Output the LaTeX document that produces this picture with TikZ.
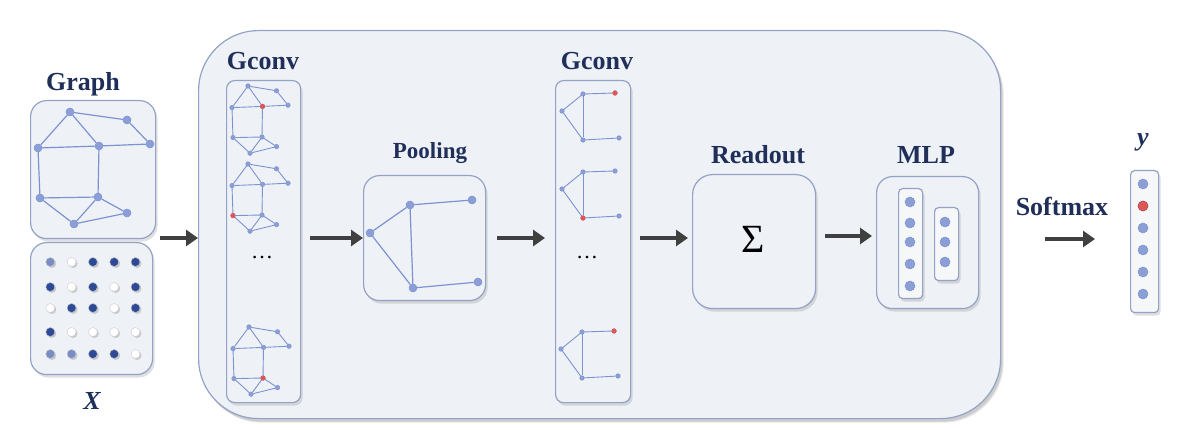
\documentclass[tikz,border=0pt]{standalone}
\usepackage{fontspec}
\setmainfont{Liberation Serif}
\usetikzlibrary{arrows.meta,shadows,positioning}
\definecolor{boxfill}{HTML}{EEF1F5}
\definecolor{boxline}{HTML}{93A2C6}
\definecolor{nodeblue}{HTML}{8C9ED6}
\definecolor{edgeblue}{HTML}{7C93D2}
\definecolor{dark}{HTML}{2E4A96}
\definecolor{mid}{HTML}{7A8CC4}
\definecolor{redn}{HTML}{E05555}
\definecolor{title}{HTML}{1F2F5A}
\tikzset{
  box/.style={draw=boxline,line width=1.2pt,fill=boxfill,rounded corners=#1,
     drop shadow={shadow xshift=2pt,shadow yshift=-3pt,opacity=0.25}},
  box/.default=16pt,
  lbl/.style={font=\fontsize{26}{28}\selectfont\bfseries,text=title},
  gn/.style={circle,fill=nodeblue,draw=edgeblue,line width=0.5pt,inner sep=0pt,minimum size=#1},
  gn/.default=8pt,
  ge/.style={draw=edgeblue,line width=1.2pt},
  se/.style={draw=edgeblue,line width=0.9pt},
  arr/.style={draw=black!75,line width=3.5pt,-{Triangle[length=12pt,width=16pt]}},
  md/.style={circle,inner sep=0pt,minimum size=9pt,draw=white!80!black,line width=0.4pt,
     drop shadow={shadow xshift=1.5pt,shadow yshift=-1.5pt,opacity=0.35}},
}
\newcommand\smallG[4]{%
 \begin{scope}[shift={(#2,#3)},xscale=0.5,yscale=0.6]
  \foreach \n/\x/\y in {a/70/112,b/127/120,c/150/144,d/38/148,e/99/146,f/40/198,g/98/197,h/127/213,i/74/224}{
   \node[gn=4.5pt] (#1\n) at (\x-38,\y-112) {};}
  \node[gn=4.5pt,fill=redn,draw=redn] at (#1#4) {};
  \foreach \u/\v in {a/b,b/c,a/d,d/e,e/c,a/e,e/g,d/f,f/g,g/h,h/i,f/i,g/i}{\path[se] (#1\u)--(#1\v);}
 \end{scope}}
\newcommand\smallP[4]{%
 \begin{scope}[shift={(#2,#3)}]
  \foreach \n/\x/\y in {a/21/1,b/53/0,c/0/18,d/21/47,e/57/45}{\node[gn=4.5pt] (#1\n) at (\x,\y) {};}
  \node[gn=4.5pt,fill=redn,draw=redn] at (#1#4) {};
  \foreach \u/\v in {a/b,a/c,c/d,a/d,d/e}{\path[se] (#1\u)--(#1\v);}
 \end{scope}}
\begin{document}
\begin{tikzpicture}[x=1pt,y=-1pt]
\useasboundingbox (0,0) rectangle (1192,430);
\node[box=60pt,minimum width=802pt,minimum height=388pt,anchor=north west,
   drop shadow={shadow xshift=3pt,shadow yshift=-4pt,opacity=0.2}] (outer) at (198,30) {};
% Graph
\node[lbl] (tg) at (83,84) {Graph};
\node[box,minimum width=125pt,minimum height=138pt,anchor=north west] (gbox) at (30,100) {};
\foreach \n/\x/\y in {a/70/112,b/127/120,c/150/144,d/38/148,e/99/146,f/40/198,g/98/197,h/127/213,i/74/224}{
  \node[gn] (G\n) at (\x,\y) {};}
\foreach \u/\v in {a/b,b/c,a/d,d/e,e/c,a/e,e/g,d/f,f/g,g/h,h/i,f/i,g/i}{\path[ge] (G\u)--(G\v);}
% X
\node[box,minimum width=122pt,minimum height=132pt,anchor=north west] (xbox) at (30,242) {};
\node[lbl,font=\fontsize{26}{28}\selectfont\bfseries\itshape] (tx) at (92,401) {X};
\foreach \row/\y in {{mid,white,dark,dark,dark}/262,{dark,white,dark,white,dark}/287,{white,dark,dark,white,dark}/308,{dark,white,white,white,white}/332,{mid,mid,dark,dark,white}/354}{
  \foreach \c [count=\k] in \row {
    \pgfmathsetmacro\xx{29+21.3*\k}
    \node[md,fill=\c] (X\k-\y) at (\xx,\y) {};}}
\coordinate (a1s) at (160,238);
\draw[arr] (a1s) -- (outer.west |- a1s);
% Gconv 1
\node[lbl] (tg1) at (263,61) {Gconv};
\node[box=8pt,minimum width=74pt,minimum height=322pt,anchor=north west] (col1) at (226,80) {};
\smallG{A}{232}{86}{e}
\smallG{B}{232}{164}{f}
\smallG{C}{233}{327}{g}
\node[font=\fontsize{22}{22}\selectfont] (dots1) at (262,258) {\dots};
\coordinate (a2s) at (310,238);
\draw[arr] (a2s) -- (363,238);
% Pooling
\node[lbl,font=\fontsize{23}{26}\selectfont\bfseries] (tp) at (430,153) {Pooling};
\node[box,minimum width=122pt,minimum height=125pt,anchor=north west] (pbox) at (363,175) {};
\foreach \n/\x/\y in {a/410/205,b/472/200,c/370/233,d/413/288,e/478/282}{\node[gn] (P\n) at (\x,\y) {};}
\foreach \u/\v in {a/b,a/c,c/d,a/d,d/e}{\path[ge] (P\u)--(P\v);}
\coordinate (a3s) at (497,238);
\draw[arr] (a3s) -- (545,238);
% Gconv 2
\node[lbl] (tg2) at (597,61) {Gconv};
\node[box=8pt,minimum width=75pt,minimum height=322pt,anchor=north west] (col2) at (555,80) {};
\smallP{D}{562}{93}{b}
\smallP{E}{562}{171}{d}
\smallP{F}{561}{331}{b}
\node[font=\fontsize{22}{22}\selectfont] (dots2) at (587,258) {\dots};
\coordinate (a4s) at (640,238);
\draw[arr] (a4s) -- (688,238);
% Readout
\node[lbl] (tr) at (758,155) {Readout};
\node[box=20pt,minimum width=123pt,minimum height=134pt,anchor=north west] (rbox) at (692,174) {};
\node[font=\fontsize{40}{40}\selectfont] (sig) at (753,239) {Σ};
\coordinate (a5s) at (825,236);
\draw[arr] (a5s) -- (872,236);
% MLP
\node[lbl] (tm) at (926,155) {MLP};
\node[box,minimum width=102pt,minimum height=132pt,anchor=north west] (mbox) at (876,176) {};
\node[box=4pt,minimum width=24pt,minimum height=110pt,anchor=north west,fill=boxfill!60!white] (m1) at (898,188) {};
\node[box=4pt,minimum width=24pt,minimum height=73pt,anchor=north west,fill=boxfill!60!white] (m2) at (934,207) {};
\foreach \y in {202,223,242,264,286}{\node[gn=10pt] (M1-\y) at (910,\y) {};}
\foreach \y in {222,242,262}{\node[gn=10pt] (M2-\y) at (945,\y) {};}
% Softmax
\node[lbl] (ts) at (1062,206) {Softmax};
\coordinate (a6s) at (1045,239);
\coordinate (a6e) at (1095,239);
\draw[arr] (a6s) -- (a6e);
% y
\node[lbl,font=\fontsize{26}{28}\selectfont\bfseries\itshape] (ty) at (1143,142) {y};
\node[box=4pt,minimum width=28pt,minimum height=142pt,anchor=north west,fill=boxfill!60!white] (ybox) at (1130,170) {};
\foreach \y in {184,206,228,250,272,294}{\node[gn=10pt] (Y\y) at (1143,\y) {};}
\node[gn=10pt,fill=redn,draw=redn!80!black] at (Y206) {};
\end{tikzpicture}
\end{document}
